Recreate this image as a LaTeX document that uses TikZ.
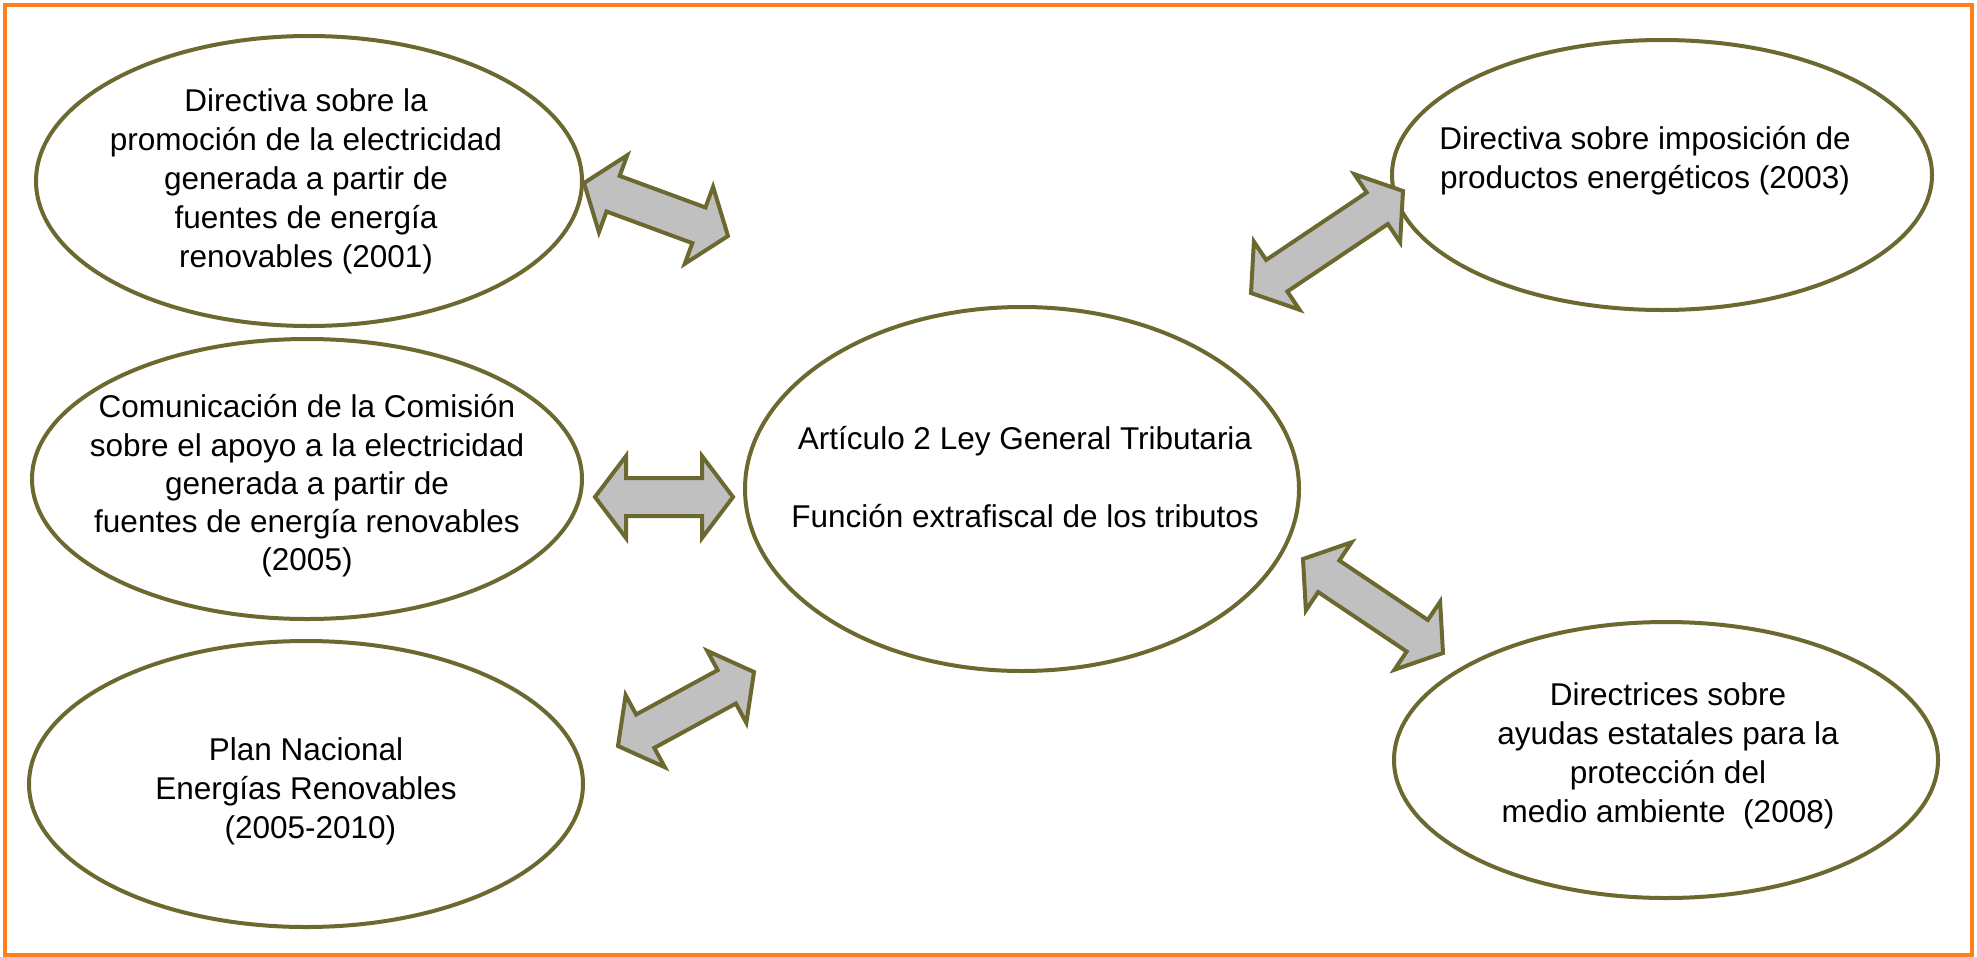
\documentclass[tikz,border=0pt]{standalone}
\usepackage{fontspec}
\setmainfont{Liberation Sans}
\usetikzlibrary{shapes.geometric,calc}
\definecolor{rim}{RGB}{107,105,48}
\definecolor{arrowgray}{RGB}{192,192,192}
\definecolor{frame}{RGB}{255,127,30}
\tikzset{
  tema/.style={ellipse, draw=rim, line width=4bp, inner sep=0pt},
  texto/.style={align=center, inner sep=0pt, font=\fontsize{31.5bp}{39bp}\selectfont},
  blockarrow/.style={draw=rim, fill=arrowgray, line width=4bp, line join=miter},
}
% two-headed block arrow between two tips
\newcommand{\headlen}{31bp}
\newcommand{\headw}{41bp}
\newcommand{\shaftw}{19bp}
\newcommand{\dblarrow}[2]{%
  \draw[blockarrow] (#1)
    -- ($(#1)!\headlen!(#2)!\headw!90:(#2)$)
    -- ($(#1)!\headlen!(#2)!\shaftw!90:(#2)$)
    -- ($(#2)!\headlen!(#1)!\shaftw!-90:(#1)$)
    -- ($(#2)!\headlen!(#1)!\headw!-90:(#1)$)
    -- (#2)
    -- ($(#2)!\headlen!(#1)!\headw!90:(#1)$)
    -- ($(#2)!\headlen!(#1)!\shaftw!90:(#1)$)
    -- ($(#1)!\headlen!(#2)!\shaftw!-90:(#2)$)
    -- ($(#1)!\headlen!(#2)!\headw!-90:(#2)$)
    -- cycle;}
\begin{document}
\begin{tikzpicture}[x=1bp,y=-1bp]
  \useasboundingbox (0,0) rectangle (1977,957);
  \draw[frame, line width=4bp] (5,5) rectangle (1972,955);

  % ellipses
  \node[tema, minimum width=546bp, minimum height=290bp] (promocion) at (309,181) {};
  \node[tema, minimum width=550bp, minimum height=280bp] (comunicacion) at (307,479) {};
  \node[tema, minimum width=554bp, minimum height=286bp] (plan) at (306,784) {};
  \node[tema, minimum width=554bp, minimum height=364bp] (articulo) at (1022,489) {};
  \node[tema, minimum width=540bp, minimum height=270bp] (imposicion) at (1662,175) {};
  \node[tema, minimum width=544bp, minimum height=276bp] (directrices) at (1666,760) {};

  % texts
  \node[texto] at ($(promocion)+(-3,0)$) {Directiva sobre la\\promoción de la electricidad\\generada a partir de\\fuentes de energía\\renovables (2001)};
  \node[texto, font=\fontsize{31.5bp}{38.3bp}\selectfont] at ($(comunicacion)+(0,7)$) {Comunicación de la Comisión\\sobre el apoyo a la electricidad\\generada a partir de\\fuentes de energía renovables\\(2005)};
  \node[texto] at ($(plan)+(0,7)$) {Plan Nacional\\Energías Renovables\\ \ (2005-2010)};
  \node[texto] at ($(articulo)+(3,-12)$) {Artículo 2 Ley General Tributaria\\[39bp]Función extrafiscal de los tributos};
  \node[texto] at ($(imposicion)+(-17,-14)$) {Directiva sobre imposición de\\productos energéticos (2003)};
  \node[texto] at ($(directrices)+(2,-4)$) {Directrices sobre\\ayudas estatales para la\\protección del\\medio ambiente \ (2008)};

  % arrow tips
  \coordinate (a1) at (584,183);  \coordinate (b1) at (728,236);
  \coordinate (a2) at (595,497);  \coordinate (b2) at (733,497);
  \coordinate (a3) at (618,746);  \coordinate (b3) at (754,672);
  \coordinate (a4) at (1251,293); \coordinate (b4) at (1403,191);
  \coordinate (a5) at (1303,559); \coordinate (b5) at (1443,653);

  \dblarrow{a1}{b1}
  \dblarrow{a2}{b2}
  \dblarrow{a3}{b3}
  \dblarrow{a4}{b4}
  \dblarrow{a5}{b5}
\end{tikzpicture}
\end{document}
